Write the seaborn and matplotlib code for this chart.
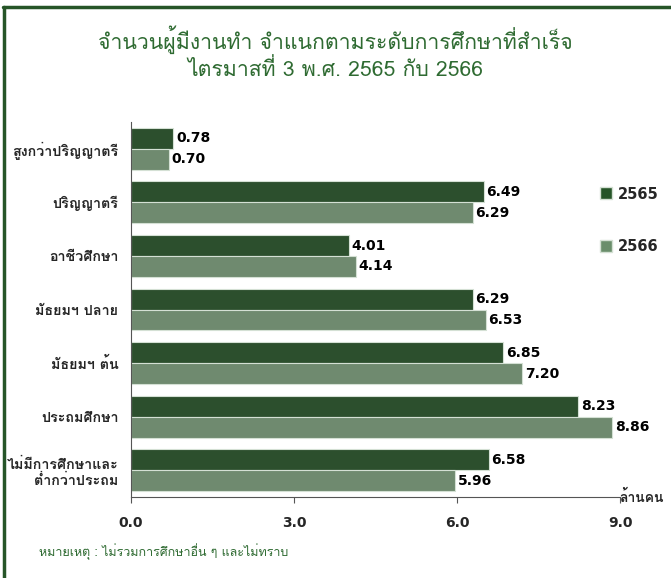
import matplotlib
matplotlib.use("Agg")
import matplotlib.pyplot as plt
import numpy as np
import pandas as pd
import seaborn as sns
from matplotlib.lines import Line2D

# --- data ---
categories = ['สูงกว่าปริญญาตรี', 'ปริญญาตรี', 'อาชีวศึกษา', 'มัธยมฯ ปลาย',
              'มัธยมฯ ต้น', 'ประถมศึกษา', 'ไม่มีการศึกษาและ\nต่ำกว่าประถม']
years = ['2565', '2566']
values_2565 = [0.78, 6.49, 4.01, 6.29, 6.85, 8.23, 6.58]
values_2566 = [0.70, 6.29, 4.14, 6.53, 7.20, 8.86, 5.96]
x_ticks = [0.0, 3.0, 6.0, 9.0]

title = 'จำนวนผู้มีงานทำ จำแนกตามระดับการศึกษาที่สำเร็จ\nไตรมาสที่ 3 พ.ศ. 2565 กับ 2566'
note = 'หมายเหตุ : ไม่รวมการศึกษาอื่น ๆ และไม่ทราบ'
unit = 'ล้านคน'

df = pd.DataFrame({
    'ระดับการศึกษา': categories * 2,
    'ปี': [years[0]] * len(categories) + [years[1]] * len(categories),
    'ล้านคน': values_2565 + values_2566,
})

sns.set_theme(style="white")
plt.rcParams['font.family'] = ['DejaVu Sans', 'Loma']
# Loma first for Thai strings so the marks stack properly
thai = ['Loma', 'DejaVu Sans']

dark_green = '#265528'
light_green = '#6a8e6b'
title_green = '#2f6b32'
palette = {years[0]: dark_green, years[1]: light_green}

fig = plt.figure(figsize=(6.71, 5.78), dpi=100)
ax = fig.add_axes([0.1952, 0.1401, 0.7288, 0.6488])

sns.barplot(data=df, y='ระดับการศึกษา', x='ล้านคน', hue='ปี', orient='h',
            palette=palette, width=0.78, edgecolor='#d4e0d4', linewidth=0.8,
            legend=False, ax=ax)

for cont in ax.containers:
    ax.bar_label(cont, fmt='%.2f', padding=2, fontsize=10, fontweight='bold', color='black')

ax.set_xlim(0, 9)
ax.set_ylim(6.5, -0.5)
ax.set_xticks(x_ticks)
ax.set_xticklabels([f'{t:.1f}' for t in x_ticks], fontsize=10, fontweight='bold')
ax.tick_params(axis='x', length=4, width=0.8, color='#555555', pad=10, bottom=True)
ax.tick_params(axis='y', length=0, pad=9)
for lab in ax.get_yticklabels():
    lab.set_fontweight('bold')
    lab.set_family(thai)
    lab.set_fontsize(10.3)
ax.set_xlabel('')
ax.set_ylabel('')
for side in ['top', 'right']:
    ax.spines[side].set_visible(False)
for side in ['left', 'bottom']:
    ax.spines[side].set_color('#555555')
    ax.spines[side].set_linewidth(0.8)
ax.grid(False)

# legend
handles = [Line2D([], [], marker='s', linestyle='none', markersize=8,
                  markerfacecolor=palette[y], markeredgecolor='#d4e0d4') for y in years]
fig.legend(handles, years, loc='upper left', bbox_to_anchor=(0.875, 0.70),
           frameon=False, prop={'weight': 'bold', 'size': 10.5},
           labelspacing=2.6, handletextpad=0.4, handlelength=0.8)

# title, unit and footnote
fig.text(0.5, 0.957, title, ha='center', va='top', fontsize=15.3,
         color=title_green, linespacing=1.25, family=thai)
fig.text(0.923, 0.139, unit, ha='left', va='center', fontsize=10,
         fontweight='bold', family=thai)
fig.text(0.058, 0.045, note, ha='left', va='center', fontsize=9,
         color=title_green, family=thai)

# green frame (left and top)
fig.add_artist(Line2D([0.006, 0.006], [0.0, 0.988], transform=fig.transFigure,
                      color=dark_green, linewidth=2.5))
fig.add_artist(Line2D([0.004, 1.0], [0.988, 0.988], transform=fig.transFigure,
                      color=dark_green, linewidth=2.5))

fig.savefig('out.png', dpi=100)
